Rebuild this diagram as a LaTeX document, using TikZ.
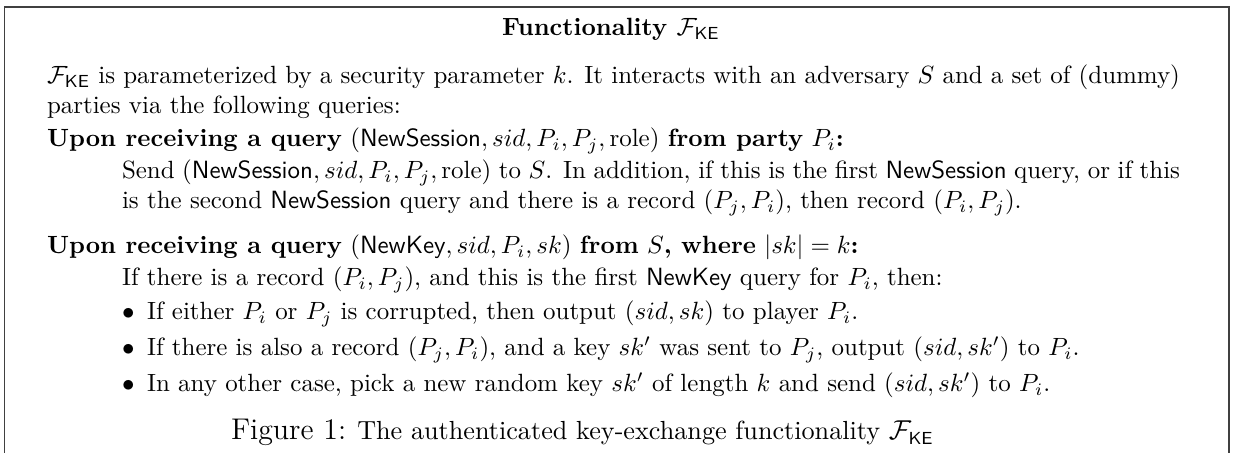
\documentclass[tikz,border=0pt]{standalone}
\usepackage{amsmath}
\newcommand{\FKE}{\mathcal{F}_{\mathsf{KE}}}
\newcommand{\qname}[1]{\textsf{#1}}
% full-width lines of a justified paragraph
\newcommand{\fullline}[2]{\makebox[#1][s]{#2}}
\begin{document}
\begin{tikzpicture}[x=0.401pt,y=-0.401pt,
  txt/.style={anchor=base west,inner sep=0pt,outer sep=0pt},
  head/.style={anchor=base,inner sep=0pt,outer sep=0pt,font=\bfseries},
  frameline/.style={draw=black!75,line width=0.55pt}]
\useasboundingbox (0,0) rectangle (1234,453);
% open frame around the functionality
\coordinate (bl) at (4.5,453);
\coordinate (tl) at (4.5,7);
\coordinate (tr) at (1229,7);
\coordinate (br) at (1229,453);
\draw[frameline] (bl) -- (tl) -- (tr) -- (br);
% heading
\node[head] (title) at (611,36) {Functionality $\FKE$};
% introduction
\node[txt] (intro1) at (47,84) {\fullline{454.3pt}{$\FKE$ is parameterized by a security parameter $k$. It interacts with an adversary $S$ and a set of (dummy)}};
\node[txt] (intro2) at (47,114) {parties via the following queries:};
% NewSession query
\node[txt] (q1) at (47,147) {\textbf{Upon receiving a query} $(\qname{NewSession}, sid, P_i, P_j, \mathrm{role})$ \textbf{from party} $P_i$\textbf{:}};
\node[txt] (q1a) at (122,179) {\fullline{424.3pt}{Send $(\qname{NewSession}, sid, P_i, P_j, \mathrm{role})$ to $S$. In addition, if this is the first \qname{NewSession} query, or if this}};
\node[txt] (q1b) at (122,209) {is the second \qname{NewSession} query and there is a record $(P_j, P_i)$, then record $(P_i, P_j)$.};
% NewKey query
\node[txt] (q2) at (47,254) {\textbf{Upon receiving a query} $(\qname{NewKey}, sid, P_i, sk)$ \textbf{from} $S$\textbf{, where} $|sk| = k$\textbf{:}};
\node[txt] (q2a) at (122,286) {If there is a record $(P_i, P_j)$, and this is the first \qname{NewKey} query for $P_i$, then:};
\node[txt] (d1) at (122,320) {$\bullet$};
\node[txt] (c1) at (147,320) {If either $P_i$ or $P_j$ is corrupted, then output $(sid, sk)$ to player $P_i$.};
\node[txt] (d2) at (122,356) {$\bullet$};
\node[txt] (c2) at (147,356) {If there is also a record $(P_j, P_i)$, and a key $sk'$ was sent to $P_j$, output $(sid, sk')$ to $P_i$.};
\node[txt] (d3) at (122,392) {$\bullet$};
\node[txt] (c3) at (147,392) {In any other case, pick a new random key $sk'$ of length $k$ and send $(sid, sk')$ to $P_i$.};
% caption
\node[txt] (cap) at (231,440) {{\large Figure 1:} {\fontsize{10.5}{12.5}\selectfont The authenticated key-exchange functionality $\FKE$}};
\end{tikzpicture}
\end{document}
